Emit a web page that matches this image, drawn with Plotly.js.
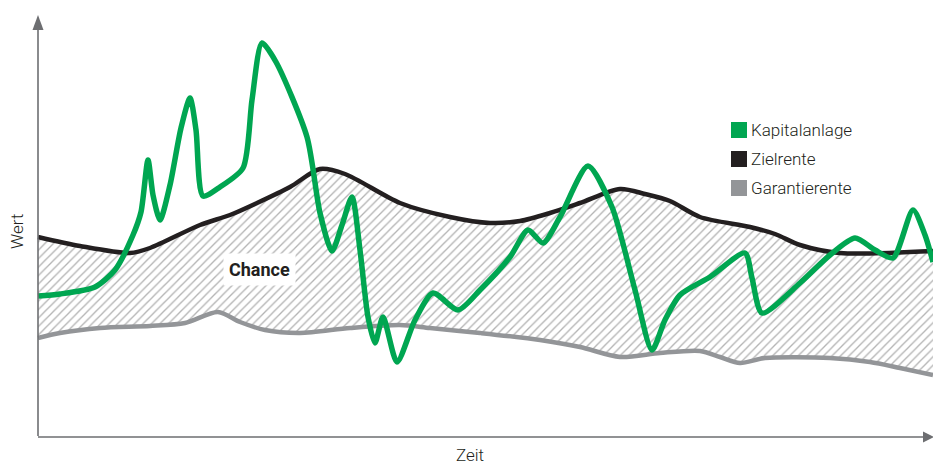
<!DOCTYPE html>
<html>
<head>
<meta charset="utf-8">
<script src="https://cdn.plot.ly/plotly-3.0.1.min.js"></script>
<style>html,body{margin:0;padding:0;background:#fff;}#chart{width:933px;height:467px;}</style>
</head>
<body>
<div id="chart"></div>
<script>
// Time positions and values (arbitrary units, value 0 = time axis)
const zielT = [0,42,92,112,162,192,219,252,282,307,362,412,452,482,512,542,582,607,632,662,712,737,762,802,895];
const zielV = [199,190,183,188,211,221,233,249,267,262,233,219,213,215,223,233,247,242,235,219,209,202,191,183,185];

const garT = [0,22,62,112,147,180,202,227,262,312,362,392,442,502,542,582,622,662,682,702,727,792,832,862,895];
const garV = [98,103,108,110,113,124,114,106,103,108,111,108,103,96,89,79,83,85,79,73,78,78,74,68,61];

const kapT = [0,22,57,77,95,103,110,115,122,132,143,152,158,165,182,205,214,224,238,269,282,294,304,314,322,330,337,345,359,377,395,420,442,472,490,505,522,550,574,597,614,627,642,672,707,714,724,762,792,817,837,855,875,887,895];
const kapV = [140,142,149,166,201,224,276,241,216,251,308,338,306,240,249,268,336,393,374,299,223,185,211,239,186,119,93,119,74,116,143,126,146,179,206,193,219,270,229,146,86,116,141,159,183,158,123,153,181,198,186,178,226,201,174];

const seriesNames = ['Kapitalanlage','Zielrente','Garantierente'];
const seriesColors = ['#00a651','#231f20','#939598'];
const labelChance = 'Chance';
const axisX = 'Zeit';
const axisY = 'Wert';

const axisCol = '#6d6e71';
const lightFont = {family:'Roboto, sans-serif', size:17, color:'#231f20', weight:300};

const traces = [
  {x: garT, y: garV, type:'scatter', mode:'lines', line:{color:seriesColors[2], width:4.5, shape:'spline', smoothing:0.8}, hoverinfo:'skip', showlegend:false},
  {x: zielT, y: zielV, type:'scatter', mode:'lines', line:{color:seriesColors[1], width:4.5, shape:'spline', smoothing:0.8},
   fill:'tonexty', fillcolor:'rgba(0,0,0,0)',
   fillpattern:{shape:'/', size:6, solidity:0.22, fgcolor:'#b3b3b3', bgcolor:'#ffffff'},
   hoverinfo:'skip', showlegend:false},
  {x: kapT, y: kapV, type:'scatter', mode:'lines', line:{color:seriesColors[0], width:5.5, shape:'spline', smoothing:0.7}, hoverinfo:'skip', showlegend:false}
];

const shapes = [
  // y axis
  {type:'line', xref:'x', yref:'y', x0:0, x1:0, y0:0, y1:407, line:{color:axisCol, width:1.6}},
  {type:'path', xref:'x', yref:'y', path:'M -5.5 406 L 0 421 L 5.5 406 Z', fillcolor:axisCol, line:{width:0}},
  // x axis
  {type:'line', xref:'x', yref:'y', x0:0, x1:886, y0:-1, y1:-1, line:{color:axisCol, width:1.6}},
  {type:'path', xref:'x', yref:'y', path:'M 885 4.5 L 896 -1 L 885 -6.5 Z', fillcolor:axisCol, line:{width:0}}
];
// legend squares
const legY = [306, 277, 248];
for (let i = 0; i < 3; i++) {
  shapes.push({type:'rect', xref:'x', yref:'y', x0:693, x1:709, y0:legY[i]-8, y1:legY[i]+8, fillcolor:seriesColors[i], line:{width:0}});
}

const annotations = [
  {x:221, y:167, xref:'x', yref:'y', text:'<b>'+labelChance+'</b>', showarrow:false, bgcolor:'#ffffff', borderpad:5,
   font:{family:'Roboto, sans-serif', size:18, color:'#231f20'}},
  {x:-21, y:204, xref:'x', yref:'y', text:axisY, textangle:-90, showarrow:false, font:lightFont},
  {x:432, y:-19, xref:'x', yref:'y', text:axisX, showarrow:false, font:lightFont}
];
for (let i = 0; i < 3; i++) {
  annotations.push({x:711, y:legY[i], xref:'x', yref:'y', text:seriesNames[i], showarrow:false, xanchor:'left', yanchor:'middle', font:lightFont});
}

const layout = {
  width:933, height:467,
  margin:{l:0, r:0, t:0, b:0, pad:0},
  paper_bgcolor:'#ffffff', plot_bgcolor:'#ffffff',
  showlegend:false,
  xaxis:{range:[-38,895], visible:false, fixedrange:true},
  yaxis:{range:[-31,436], visible:false, fixedrange:true},
  shapes: shapes,
  annotations: annotations
};

Plotly.newPlot('chart', traces, layout, {displayModeBar:false, staticPlot:true});
</script>
</body>
</html>
